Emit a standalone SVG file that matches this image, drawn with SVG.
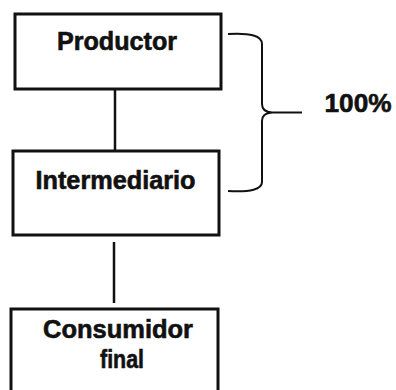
<svg xmlns="http://www.w3.org/2000/svg" width="396" height="390" viewBox="0 0 396 390">
<style>
.box{fill:#fff;stroke:#111;stroke-width:3}
.lbl{font-family:"Liberation Sans",Arial,sans-serif;font-weight:bold;font-size:25px;fill:#111;stroke:#111;stroke-width:0.6;text-anchor:middle}
.conn{stroke:#111;stroke-width:2.5;fill:none}
.brace{stroke:#111;stroke-width:2;fill:none}
</style>
<rect width="396" height="390" fill="#fff"/>
<g id="connectors">
<line class="conn" x1="115" y1="89" x2="115" y2="151"/>
<line class="conn" x1="114" y1="242" x2="114" y2="303"/>
</g>
<g id="productor">
<rect class="box" x="15" y="14" width="206" height="75"/>
<text class="lbl" x="117" y="50" textLength="120" lengthAdjust="spacingAndGlyphs">Productor</text>
</g>
<g id="intermediario">
<rect class="box" x="13" y="151" width="206" height="84"/>
<text class="lbl" x="115.5" y="189" textLength="160" lengthAdjust="spacingAndGlyphs">Intermediario</text>
</g>
<g id="consumidor">
<rect class="box" x="11" y="309" width="207" height="100"/>
<text class="lbl" x="118" y="338" textLength="150" lengthAdjust="spacingAndGlyphs">Consumidor</text>
<text class="lbl" x="122" y="368" textLength="44" lengthAdjust="spacingAndGlyphs">final</text>
</g>
<g id="brace">
<path class="brace" d="M228,34 Q262,32 262,44 L262,104 Q262,112 272,112.5 L302,112.5 M272,112.5 Q262,113 262,121 L262,182 Q262,193 228,191"/>
<text class="lbl" x="358" y="111.5" textLength="67" lengthAdjust="spacingAndGlyphs">100%</text>
</g>
</svg>
